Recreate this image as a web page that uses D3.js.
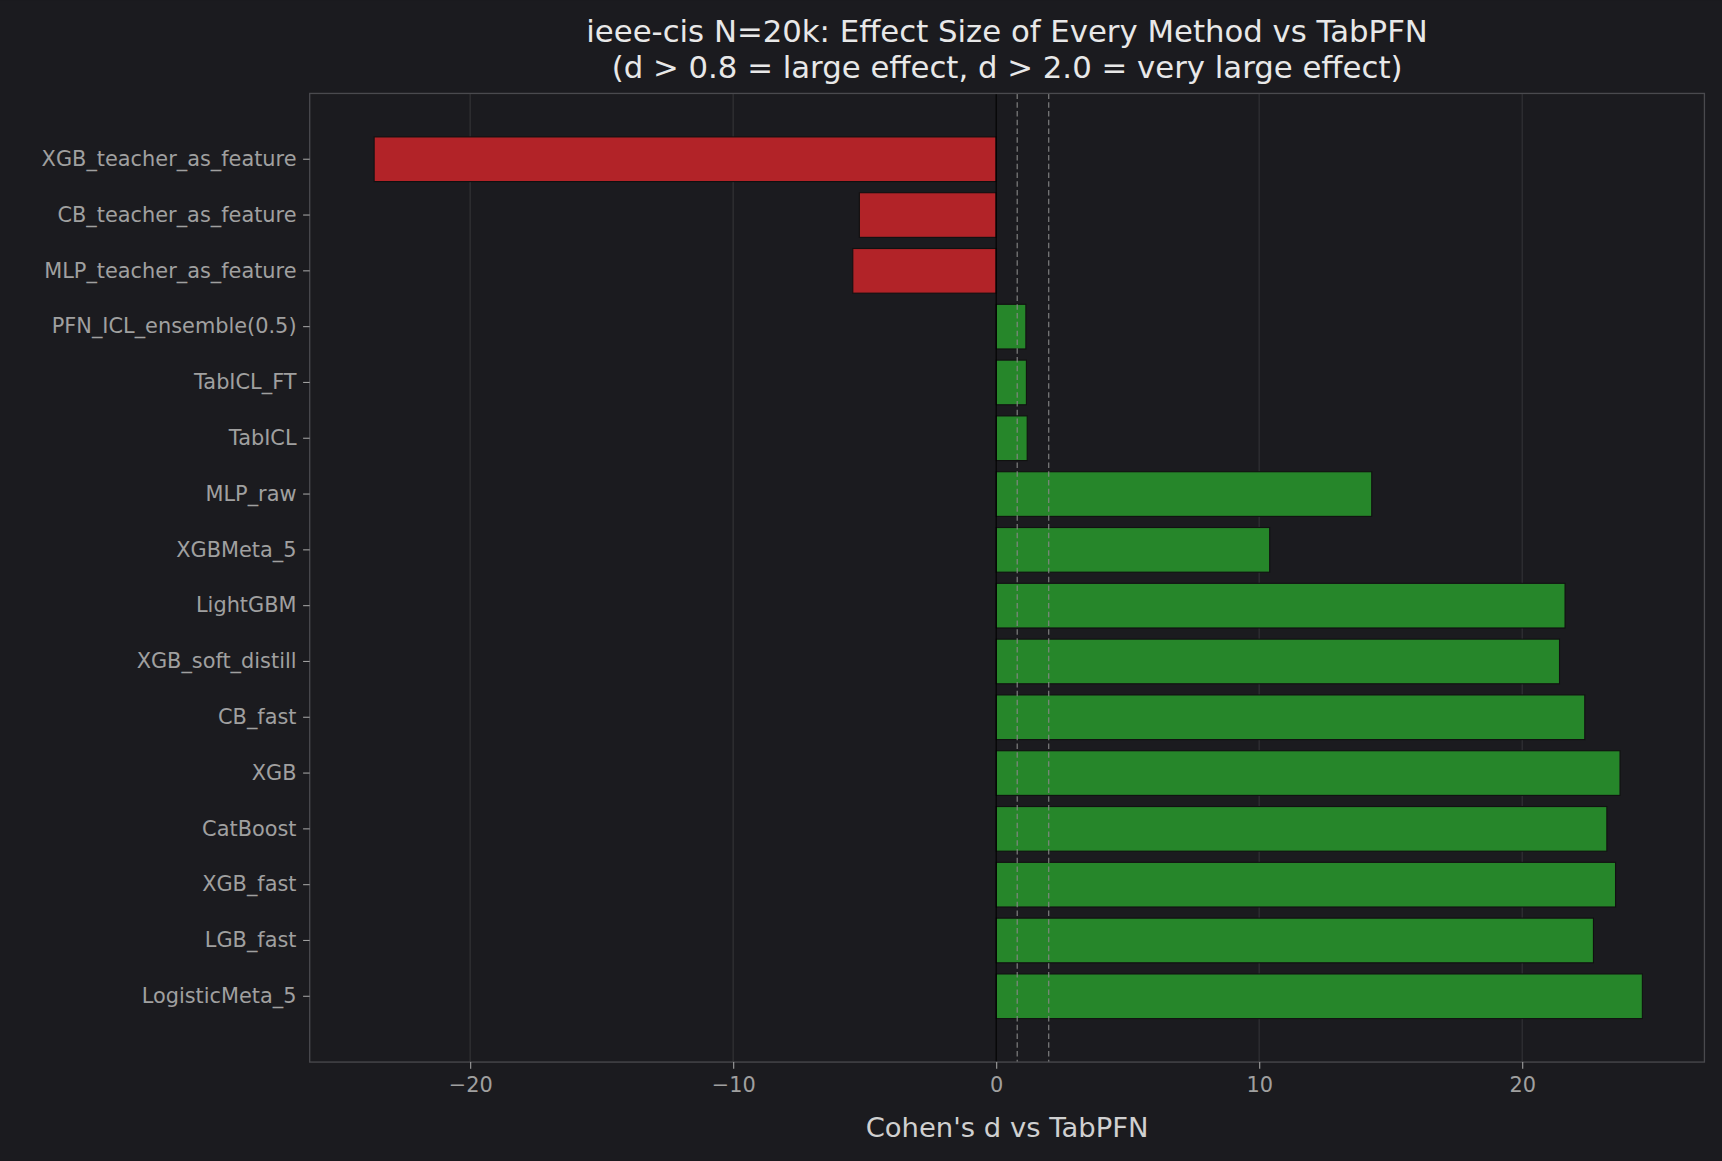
<!DOCTYPE html>
<html><head><meta charset="utf-8">
<script src="https://cdn.jsdelivr.net/npm/d3@7"></script>
<style>body{margin:0;background:#1b1b1f}svg{display:block}</style>
</head><body>
<script>
// chart data
const methods = ["XGB_teacher_as_feature","CB_teacher_as_feature","MLP_teacher_as_feature","PFN_ICL_ensemble(0.5)","TabICL_FT","TabICL","MLP_raw","XGBMeta_5","LightGBM","XGB_soft_distill","CB_fast","XGB","CatBoost","XGB_fast","LGB_fast","LogisticMeta_5"];
const effects = [-23.65,-5.2,-5.45,1.13,1.15,1.18,14.28,10.4,21.63,21.42,22.38,23.72,23.22,23.55,22.71,24.57];
const xTicks = [-20,-10,0,10,20];
const thresholds = [0.8,2.0];

const W = 1568, H = 1057;
const m = {l:282, r:1552, t:85, b:967};
const svg = d3.select("body").append("svg")
  .attr("width",1722).attr("height",1161).attr("viewBox",`0 0 ${W} ${H}`)
  .style("font-family","DejaVu Sans");
svg.append("rect").attr("width",W).attr("height",H).attr("fill","#1b1b1f");

const x = d3.scaleLinear().domain([-26.1,26.93]).range([m.l,m.r]);
const y = d3.scaleBand().domain(methods).range([m.t+34.5,m.b-34.5]).paddingInner(0.2).paddingOuter(0.1);

// grid
svg.append("g").selectAll("line").data(xTicks).join("line")
  .attr("x1",d=>x(d)).attr("x2",d=>x(d)).attr("y1",m.t).attr("y2",m.b)
  .attr("stroke","#3a3a3e").attr("stroke-width",0.8);

// bars
svg.append("g").selectAll("rect").data(methods).join("rect")
  .attr("x",(d,i)=>x(Math.min(0,effects[i])))
  .attr("width",(d,i)=>Math.abs(x(effects[i])-x(0)))
  .attr("y",d=>y(d)).attr("height",y.bandwidth())
  .attr("fill",(d,i)=>effects[i]<0?"#b22328":"#26862a")
  .attr("stroke","#111").attr("stroke-width",1);

// zero line + thresholds
svg.append("line").attr("x1",x(0)).attr("x2",x(0)).attr("y1",m.t).attr("y2",m.b).attr("stroke","#000").attr("stroke-width",1.2);
svg.append("g").selectAll("line").data(thresholds).join("line")
  .attr("x1",d=>x(d)).attr("x2",d=>x(d)).attr("y1",m.t).attr("y2",m.b)
  .attr("stroke","#888").attr("stroke-width",1).attr("stroke-dasharray","5,3");

// frame
svg.append("rect").attr("x",m.l).attr("y",m.t).attr("width",m.r-m.l).attr("height",m.b-m.t)
  .attr("fill","none").attr("stroke","#4a4a4e").attr("stroke-width",1.2);

// axes
const xa = svg.append("g").attr("transform",`translate(0,${m.b})`)
  .call(d3.axisBottom(x).tickValues(xTicks).tickSize(6).tickPadding(8).tickFormat(d=>d<0?"\u2212"+(-d):d));
const ya = svg.append("g").attr("transform",`translate(${m.l},0)`)
  .call(d3.axisLeft(y).tickSize(6).tickPadding(6));
[xa,ya].forEach(a=>{
  a.select(".domain").remove();
  a.selectAll(".tick line").attr("stroke","#a0a0a0");
  a.selectAll("text").attr("fill","#a0a0a0").style("font-size","19px").style("font-family","DejaVu Sans");
});

svg.append("text").attr("x",(m.l+m.r)/2).attr("y",1035).attr("text-anchor","middle")
  .attr("fill","#d0d0d0").style("font-size","25px").text("Cohen's d vs TabPFN");
svg.append("text").attr("x",(m.l+m.r)/2).attr("y",38).attr("text-anchor","middle")
  .attr("fill","#e8e8e8").style("font-size","28px").text("ieee-cis N=20k: Effect Size of Every Method vs TabPFN");
svg.append("text").attr("x",(m.l+m.r)/2).attr("y",71).attr("text-anchor","middle")
  .attr("fill","#e8e8e8").style("font-size","28px").text("(d > 0.8 = large effect, d > 2.0 = very large effect)");
</script>
</body></html>
